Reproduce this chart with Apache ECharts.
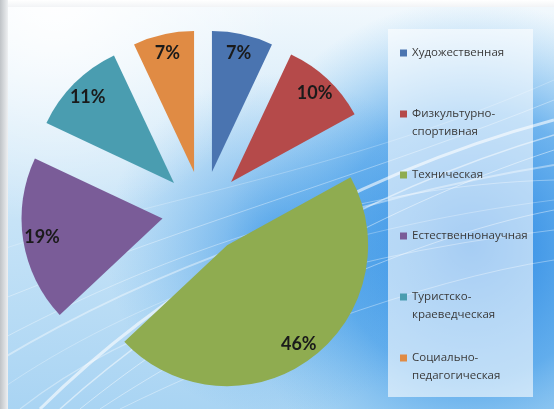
<!DOCTYPE html>
<html><head><meta charset="utf-8">
<script src="https://cdn.jsdelivr.net/npm/echarts@6/dist/echarts.min.js"></script>
<style>html,body{margin:0;padding:0;background:#fff;overflow:hidden}#c{width:554px;height:409px}</style>
</head><body><div id="c"></div>
<script>
const categories = ['Художественная','Физкультурно-спортивная','Техническая','Естественнонаучная','Туристско-краеведческая','Социально-педагогическая'];
const values = [7, 10, 46, 19, 11, 7];
const colors = ['#4a74b0','#b54a4a','#8fac50','#7a5c98','#4a9db0','#e08b44'];

const chart = echarts.init(document.getElementById('c'));

const pieData = categories.map((n, i) => ({ name: n, value: values[i], selected: true, itemStyle: { color: colors[i] } }));
const labelData = categories.map((n, i) => ({ name: n, value: values[i], selected: true }));

// decorative background swooshes
const swooshes = [];
const curveDefs = [
  [40,409, 150,300, 330,180, 554,120, 3, 0.6],
  [60,409, 170,310, 350,195, 554,135, 1.5, 0.5],
  [80,409, 190,320, 370,210, 554,150, 1, 0.45],
  [0,360, 150,270, 340,200, 554,165, 2, 0.4],
  [0,340, 170,250, 360,185, 554,180, 1, 0.35],
  [100,409, 220,330, 400,240, 554,210, 1, 0.4],
  [0,300, 200,220, 380,170, 554,100, 1, 0.35],
  [120,409, 240,350, 420,280, 554,260, 1, 0.35],
  [0,250, 150,200, 350,170, 554,80, 0.8, 0.3],
  [20,409, 120,330, 300,260, 554,230, 1.2, 0.35],
  [0,390, 130,300, 320,230, 554,200, 0.8, 0.35]
];
curveDefs.forEach(d => swooshes.push({
  type: 'bezierCurve', silent: true, z: 1,
  shape: { x1: d[0], y1: d[1], cpx1: d[2], cpy1: d[3], cpx2: d[4], cpy2: d[5], x2: d[6], y2: d[7] },
  style: { stroke: '#ffffff', lineWidth: d[8], opacity: d[9], fill: null }
}));

chart.setOption({
  animation: false,
  backgroundColor: {
    type: 'linear', x: 0, y: 0, x2: 0, y2: 1,
    colorStops: [{ offset: 0, color: '#f3f9fd' }, { offset: 0.3, color: '#d6ebf9' }, { offset: 1, color: '#a9d4f3' }]
  },
  graphic: [
    { type: 'rect', silent: true, z: 0, shape: { x: 0, y: 0, width: 554, height: 409 },
      style: { fill: { type: 'radial', x: 0.85, y: 0.6, r: 0.6,
        colorStops: [{ offset: 0, color: 'rgba(25,125,225,0.95)' }, { offset: 0.55, color: 'rgba(55,150,232,0.65)' }, { offset: 1, color: 'rgba(120,190,240,0)' }] } } },
    { type: 'rect', silent: true, z: 0, shape: { x: 0, y: 0, width: 554, height: 409 },
      style: { fill: { type: 'radial', x: 0.5, y: 0.6, r: 0.42,
        colorStops: [{ offset: 0, color: 'rgba(40,140,228,0.7)' }, { offset: 1, color: 'rgba(90,170,235,0)' }] } } },
    { type: 'rect', silent: true, z: 0, shape: { x: 0, y: 0, width: 554, height: 409 },
      style: { fill: { type: 'radial', x: 0.1, y: 0.0, r: 0.55,
        colorStops: [{ offset: 0, color: 'rgba(255,255,255,0.97)' }, { offset: 1, color: 'rgba(255,255,255,0)' }] } } },
    ...swooshes,
    { type: 'rect', silent: true, z: 2, shape: { x: 388, y: 29, width: 145, height: 368 },
      style: { fill: 'rgba(255,255,255,0.6)' } },
    { type: 'rect', silent: true, z: 3, shape: { x: 0, y: 0, width: 554, height: 7 },
      style: { fill: { type: 'linear', x: 0, y: 0, x2: 0, y2: 1, colorStops: [{ offset: 0, color: '#ffffff' }, { offset: 1, color: '#f2f4f6' }] } } },
    { type: 'rect', silent: true, z: 3, shape: { x: 0, y: 0, width: 8, height: 409 },
      style: { fill: { type: 'linear', x: 0, y: 0, x2: 1, y2: 0, colorStops: [{ offset: 0, color: '#bfc3c7' }, { offset: 1, color: '#eef0f2' }] } } }
  ],
  legend: {
    orient: 'vertical', left: 400, top: 26, padding: 0, itemGap: 7,
    itemWidth: 7, itemHeight: 7, icon: 'rect', selectedMode: false,
    formatter: n => n.indexOf('-') >= 0 ? '\n' + n.replace('-', '-\n') : '\n' + n + '\n',
    textStyle: { fontFamily: 'Open Sans', fontSize: 11.5, lineHeight: 18, color: '#3a3a3a' },
    data: categories.map((n, i) => ({ name: n, itemStyle: { color: colors[i] } }))
  },
  series: [
    {
      type: 'pie', center: [203, 212], radius: [0, 141], startAngle: 90, clockwise: true,
      selectedMode: 'multiple', selectedOffset: 41, avoidLabelOverlap: false,
      itemStyle: { borderWidth: 0 }, label: { show: false }, labelLine: { show: false },
      emphasis: { disabled: true }, z: 5,
      data: pieData
    },
    {
      type: 'pie', center: [203, 212], radius: [97, 141], startAngle: 90, clockwise: true,
      selectedMode: 'multiple', selectedOffset: 41, avoidLabelOverlap: false, silent: true,
      itemStyle: { color: 'rgba(0,0,0,0)', borderWidth: 0 }, labelLine: { show: false },
      emphasis: { disabled: true }, z: 6,
      label: { show: true, position: 'inside', formatter: '{c}%', fontFamily: 'Lato', fontWeight: 'bold', fontSize: 18, color: '#1a1a1a' },
      data: labelData
    }
  ]
});
</script></body></html>
